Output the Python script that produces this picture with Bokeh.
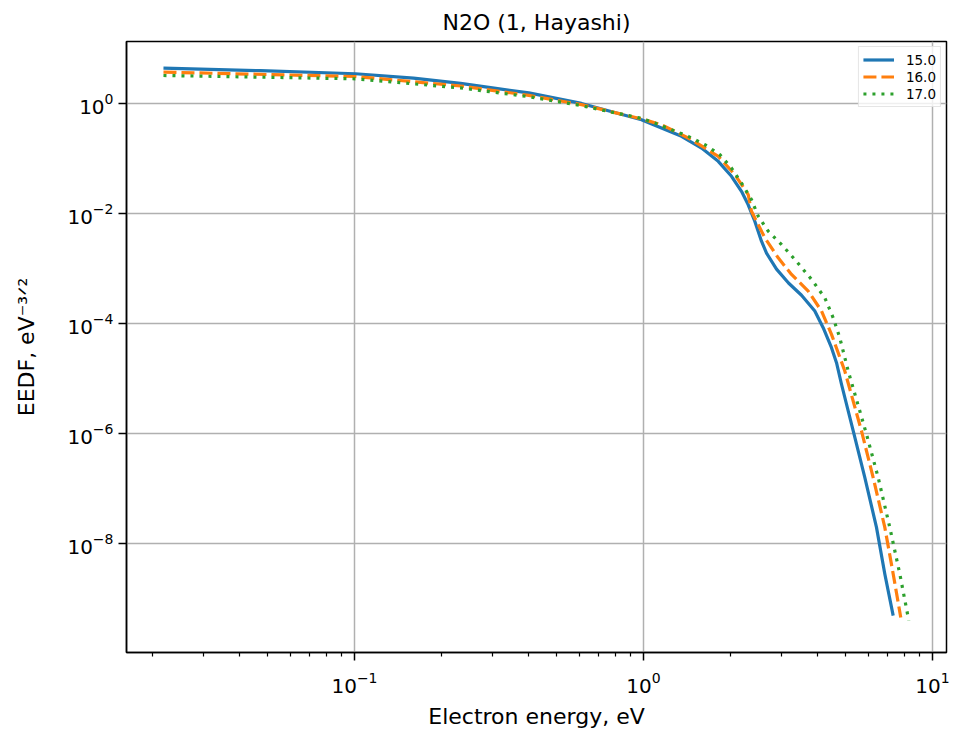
import numpy as np
from bokeh.plotting import figure
from bokeh.models import Range1d, FixedTicker, Legend, LegendItem
from bokeh.embed import file_html
from bokeh.resources import INLINE

# Electron energy distribution functions in N2O for three reduced fields
series_labels = ["15.0", "16.0", "17.0"]
series_colors = ["#1f77b4", "#ff7f0e", "#2ca02c"]

energy_15 = [0.02183, 0.0473, 0.1008, 0.160, 0.2328, 0.300, 0.401, 0.610, 0.984, 1.154,
             1.354, 1.588, 1.814, 2.016, 2.183, 2.303, 2.427, 2.560, 2.665, 2.886,
             3.175, 3.522, 3.915, 4.185, 4.472, 4.654, 4.843, 5.317, 5.833, 6.400,
             6.839, 7.311]
eedf_15 = [4.32, 3.89, 3.42, 2.85, 2.28, 1.89, 1.54, 0.988, 0.500, 0.352,
           0.249, 0.1525, 0.0875, 0.0468, 0.0250, 0.01419, 0.00713, 0.00309, 1.87e-3, 9.59e-4,
           5.38e-4, 3.22e-4, 1.66e-4, 8.26e-5, 3.58e-5, 1.91e-5, 7.75e-6, 1.10e-6, 1.56e-7, 1.94e-8,
           2.76e-9, 4.83e-10]

energy_16 = [0.02183, 0.1008, 0.2328, 0.401, 0.610, 0.984, 1.154, 1.466, 1.814, 2.070,
             2.303, 2.364, 2.630, 2.925, 3.252, 3.715, 4.130, 4.472, 4.972, 5.679,
             6.233, 6.839, 7.311, 7.766]
eedf_16 = [3.66, 3.05, 2.05, 1.386, 0.94, 0.517, 0.406, 0.217, 0.1078, 0.0502,
           0.0218, 0.0108, 0.00355, 0.00154, 7.69e-4, 3.83e-4, 1.66e-4, 6.26e-5, 1.35e-5, 1.10e-6,
           1.56e-7, 1.94e-8, 2.76e-9, 4.45e-10]

energy_17 = [0.02183, 0.1008, 0.2328, 0.401, 0.610, 0.984, 1.094, 1.250, 1.428, 1.630,
             1.837, 2.016, 2.183, 2.364, 2.494, 2.701, 3.003, 3.339, 3.814, 4.240,
             4.533, 4.777, 5.109, 5.910, 6.487, 7.115, 7.707, 8.279]
eedf_17 = [3.18, 2.77, 1.89, 1.31, 0.90, 0.528, 0.434, 0.329, 0.249, 0.176,
           0.1158, 0.0661, 0.0353, 0.01766, 0.00879, 0.00470, 0.00269, 0.00144, 6.24e-4, 2.89e-4,
           1.25e-4, 5.43e-5, 1.35e-5, 9.59e-7, 1.56e-7, 1.94e-8, 2.76e-9, 3.92e-10]

x_major_ticks = [0.1, 1.0, 10.0]
x_minor_ticks = [0.02, 0.03, 0.04, 0.05, 0.06, 0.07, 0.08, 0.09,
                 0.2, 0.3, 0.4, 0.5, 0.6, 0.7, 0.8, 0.9,
                 2.0, 3.0, 4.0, 5.0, 6.0, 7.0, 8.0, 9.0]
y_major_ticks = [1e-8, 1e-6, 1e-4, 1e-2, 1e0]

FONT = "DejaVu Sans"
W, H = 953, 734

p = figure(width=W, height=H, x_axis_type="log", y_axis_type="log",
           x_range=Range1d(0.01626, 11.18), y_range=Range1d(1.03e-10, 13.2),
           output_backend="svg", toolbar_location=None,
           min_border_left=126, min_border_right=7, min_border_top=40, min_border_bottom=82,
           title="N2O (1, Hayashi)")

p.title.align = "center"
p.title.text_font = FONT
p.title.text_font_size = "22px"
p.title.text_font_style = "normal"
p.title.text_color = "#000000"
p.title.standoff = 14

p.outline_line_color = "#000000"
p.outline_line_width = 1.5
p.outline_line_alpha = 1.0

p.xaxis.ticker = FixedTicker(ticks=x_major_ticks, minor_ticks=x_minor_ticks)
p.yaxis.ticker = FixedTicker(ticks=y_major_ticks, minor_ticks=[])

for ax in (p.xaxis[0], p.yaxis[0]):
    ax.axis_line_color = "#000000"
    ax.axis_line_width = 1.5
    ax.major_tick_out = 8
    ax.major_tick_in = 0
    ax.minor_tick_out = 4
    ax.minor_tick_in = 0
    ax.major_tick_line_width = 1.5
    ax.minor_tick_line_width = 1.2
    ax.major_tick_line_color = "#000000"
    ax.minor_tick_line_color = "#000000"
    ax.major_label_text_font = FONT
    ax.major_label_text_font_size = "20px"
    ax.major_label_text_color = "#000000"
    ax.axis_label_text_font = FONT
    ax.axis_label_text_font_size = "22px"
    ax.axis_label_text_font_style = "normal"
    ax.axis_label_text_color = "#000000"

p.xaxis.major_label_standoff = 11
p.yaxis.major_label_standoff = 5

p.xaxis.axis_label = "Electron energy, eV"
p.xaxis.axis_label_standoff = 8

p.yaxis.axis_label = "EEDF, eV\u207b\u00b3\u141f\u00b2"
p.yaxis.axis_label_standoff = 25

for g in (p.xgrid[0], p.ygrid[0]):
    g.grid_line_color = "#b0b0b0"
    g.grid_line_width = 1.5

r15 = p.line(energy_15, eedf_15, line_color=series_colors[0], line_width=3.2,
             line_join="round")
r16 = p.line(energy_16, eedf_16, line_color=series_colors[1], line_width=3.2,
             line_dash="13 5", line_join="round")
r17 = p.line(energy_17, eedf_17, line_color=series_colors[2], line_width=3.2,
             line_dash="3 6", line_join="round")

legend = Legend(items=[LegendItem(label=series_labels[0], renderers=[r15]),
                       LegendItem(label=series_labels[1], renderers=[r16]),
                       LegendItem(label=series_labels[2], renderers=[r17])],
                location="top_right", margin=5, padding=4, spacing=0,
                glyph_width=31, glyph_height=17, label_height=17,
                label_standoff=12, label_text_font=FONT,
                label_text_font_size="13.5px", label_text_color="#000000",
                border_line_color="#cccccc", border_line_width=1,
                background_fill_color="#ffffff", background_fill_alpha=0.8)
p.add_layout(legend)

open("out.html", "w").write(file_html(p, INLINE))
